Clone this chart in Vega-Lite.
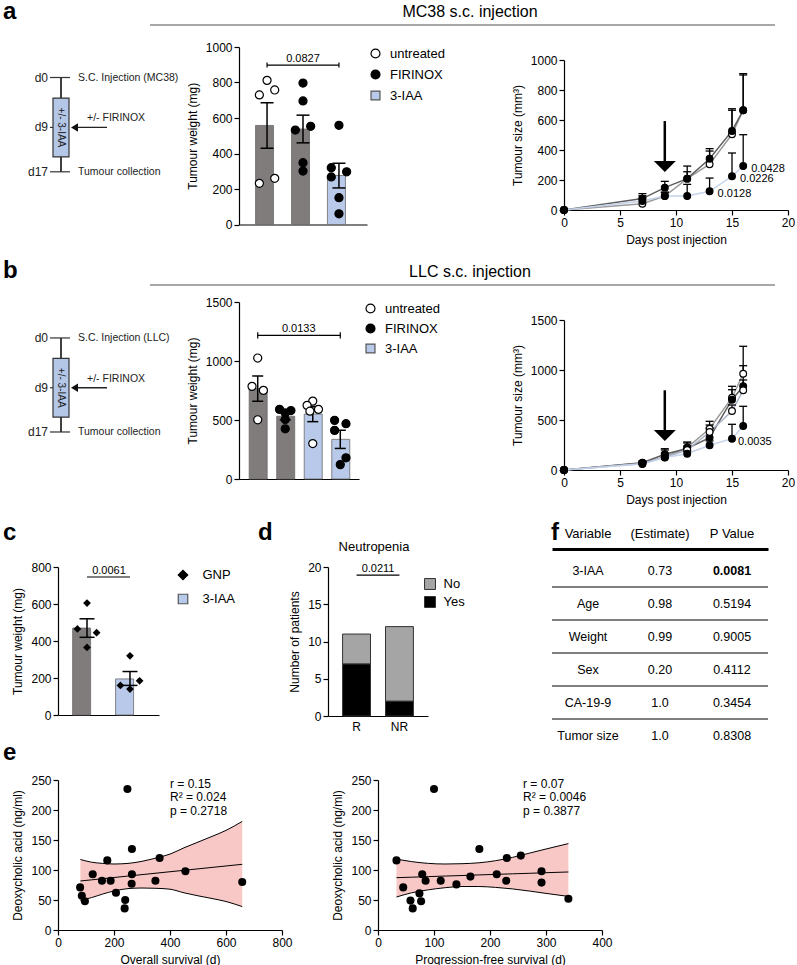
{
"$schema": "https://vega.github.io/schema/vega-lite/v6.json",
"padding": {"left": 0, "top": 0, "right": 0, "bottom": 0},
"background": "white",
"columns": 7,
"spacing": 0,
"bounds": "flush",
"align": "each",
"resolve": {"scale": {"color": "independent", "fill": "independent", "stroke": "independent", "shape": "independent", "xOffset": "independent"}},
"config": {
  "font": "Liberation Sans, Arial, Helvetica, sans-serif",
  "view": {"stroke": null},
  "axis": {"grid": false, "domainColor": "black", "tickColor": "black", "labelColor": "black", "titleColor": "black", "labelFontSize": 12, "titleFontSize": 12, "titleFontWeight": "normal", "domainWidth": 1.2, "tickWidth": 1.2, "tickSize": 5, "labelPadding": 2, "titlePadding": 6, "labelFlush": false, "labelOverlap": false, "tickCount": 20},
  "legend": {"labelColor": "black"},
  "title": {"color": "black"}
},
"datasets": {
  "timelineA": [{"day": 0, "label": "d0", "event": "S.C. Injection (MC38)"}, {"day": 9, "label": "d9", "event": "+/- FIRINOX"}, {"day": 17, "label": "d17", "event": "Tumour collection"}],
  "timelineB": [{"day": 0, "label": "d0", "event": "S.C. Injection (LLC)"}, {"day": 9, "label": "d9", "event": "+/- FIRINOX"}, {"day": 17, "label": "d17", "event": "Tumour collection"}],
  "barsA": [
    {"group": "untreated", "iaa": "none", "mean": 558, "lo": 430, "hi": 686},
    {"group": "FIRINOX", "iaa": "none", "mean": 538, "lo": 460, "hi": 616},
    {"group": "3-IAA + FIRINOX", "iaa": "3-IAA", "mean": 276, "lo": 206, "hi": 345}
  ],
  "dotsA": [
    {"group": "untreated", "chemo": "untreated", "rep": 1, "weight": 730},
    {"group": "untreated", "chemo": "untreated", "rep": 1, "weight": 232},
    {"group": "untreated", "chemo": "untreated", "rep": 3, "weight": 812},
    {"group": "untreated", "chemo": "untreated", "rep": 5, "weight": 260},
    {"group": "untreated", "chemo": "untreated", "rep": 5, "weight": 758},
    {"group": "FIRINOX", "chemo": "FIRINOX", "rep": 3, "weight": 797},
    {"group": "FIRINOX", "chemo": "FIRINOX", "rep": 3, "weight": 696},
    {"group": "FIRINOX", "chemo": "FIRINOX", "rep": 1, "weight": 532},
    {"group": "FIRINOX", "chemo": "FIRINOX", "rep": 5, "weight": 553},
    {"group": "FIRINOX", "chemo": "FIRINOX", "rep": 3, "weight": 348},
    {"group": "FIRINOX", "chemo": "FIRINOX", "rep": 3, "weight": 301},
    {"group": "3-IAA + FIRINOX", "chemo": "FIRINOX", "rep": 3, "weight": 559},
    {"group": "3-IAA + FIRINOX", "chemo": "FIRINOX", "rep": 1, "weight": 320},
    {"group": "3-IAA + FIRINOX", "chemo": "FIRINOX", "rep": 5, "weight": 297},
    {"group": "3-IAA + FIRINOX", "chemo": "FIRINOX", "rep": 1, "weight": 268},
    {"group": "3-IAA + FIRINOX", "chemo": "FIRINOX", "rep": 3, "weight": 151},
    {"group": "3-IAA + FIRINOX", "chemo": "FIRINOX", "rep": 3, "weight": 60}
  ],
  "barsB": [
    {"group": "untreated", "iaa": "none", "mean": 766, "lo": 659, "hi": 873},
    {"group": "FIRINOX", "iaa": "none", "mean": 532, "lo": 501, "hi": 563},
    {"group": "3-IAA", "iaa": "3-IAA", "mean": 550, "lo": 486, "hi": 614},
    {"group": "3-IAA + FIRINOX", "iaa": "3-IAA", "mean": 336, "lo": 259, "hi": 413}
  ],
  "dotsB": [
    {"group": "untreated", "chemo": "untreated", "rep": 3, "weight": 1025},
    {"group": "untreated", "chemo": "untreated", "rep": 1, "weight": 785},
    {"group": "untreated", "chemo": "untreated", "rep": 5, "weight": 751},
    {"group": "untreated", "chemo": "untreated", "rep": 3, "weight": 502},
    {"group": "FIRINOX", "chemo": "FIRINOX", "rep": 1, "weight": 590},
    {"group": "FIRINOX", "chemo": "FIRINOX", "rep": 5, "weight": 580},
    {"group": "FIRINOX", "chemo": "FIRINOX", "rep": 3, "weight": 560},
    {"group": "FIRINOX", "chemo": "FIRINOX", "rep": 3, "weight": 505},
    {"group": "FIRINOX", "chemo": "FIRINOX", "rep": 3, "weight": 425},
    {"group": "3-IAA", "chemo": "untreated", "rep": 3, "weight": 660},
    {"group": "3-IAA", "chemo": "untreated", "rep": 1, "weight": 624},
    {"group": "3-IAA", "chemo": "untreated", "rep": 5, "weight": 590},
    {"group": "3-IAA", "chemo": "untreated", "rep": 2, "weight": 575},
    {"group": "3-IAA", "chemo": "untreated", "rep": 3, "weight": 300},
    {"group": "3-IAA + FIRINOX", "chemo": "FIRINOX", "rep": 1, "weight": 497},
    {"group": "3-IAA + FIRINOX", "chemo": "FIRINOX", "rep": 5, "weight": 469},
    {"group": "3-IAA + FIRINOX", "chemo": "FIRINOX", "rep": 1, "weight": 412},
    {"group": "3-IAA + FIRINOX", "chemo": "FIRINOX", "rep": 5, "weight": 180},
    {"group": "3-IAA + FIRINOX", "chemo": "FIRINOX", "rep": 3, "weight": 122}
  ],
  "lineA": [
    {"series": "untreated", "chemo": "untreated", "day": 0, "value": 0},
    {"series": "untreated", "chemo": "untreated", "day": 7, "value": 42, "upper": 95},
    {"series": "untreated", "chemo": "untreated", "day": 9, "value": 93, "upper": 120},
    {"series": "untreated", "chemo": "untreated", "day": 11, "value": 209, "upper": 255},
    {"series": "untreated", "chemo": "untreated", "day": 13, "value": 305, "upper": 393},
    {"series": "untreated", "chemo": "untreated", "day": 15, "value": 505, "upper": 665},
    {"series": "untreated", "chemo": "untreated", "day": 16, "value": 665, "upper": 900},
    {"series": "FIRINOX", "chemo": "FIRINOX", "day": 0, "value": 0},
    {"series": "FIRINOX", "chemo": "FIRINOX", "day": 7, "value": 76, "upper": 109},
    {"series": "FIRINOX", "chemo": "FIRINOX", "day": 9, "value": 149, "upper": 191},
    {"series": "FIRINOX", "chemo": "FIRINOX", "day": 11, "value": 209, "upper": 293},
    {"series": "FIRINOX", "chemo": "FIRINOX", "day": 13, "value": 342, "upper": 409},
    {"series": "FIRINOX", "chemo": "FIRINOX", "day": 15, "value": 527, "upper": 675},
    {"series": "FIRINOX", "chemo": "FIRINOX", "day": 16, "value": 665, "upper": 909},
    {"series": "3-IAA + FIRINOX", "chemo": "FIRINOX", "day": 0, "value": 0},
    {"series": "3-IAA + FIRINOX", "chemo": "FIRINOX", "day": 7, "value": 60, "upper": 80},
    {"series": "3-IAA + FIRINOX", "chemo": "FIRINOX", "day": 9, "value": 93, "upper": 115},
    {"series": "3-IAA + FIRINOX", "chemo": "FIRINOX", "day": 11, "value": 93, "upper": 171},
    {"series": "3-IAA + FIRINOX", "chemo": "FIRINOX", "day": 13, "value": 125, "upper": 213},
    {"series": "3-IAA + FIRINOX", "chemo": "FIRINOX", "day": 15, "value": 225, "upper": 380},
    {"series": "3-IAA + FIRINOX", "chemo": "FIRINOX", "day": 16, "value": 293, "upper": 502}
  ],
  "pA": [{"day": 13, "value": 125, "label": "0.0128"}, {"day": 15, "value": 225, "label": "0.0226"}, {"day": 16, "value": 293, "label": "0.0428"}],
  "lineB": [
    {"series": "untreated", "chemo": "untreated", "day": 0, "value": 0},
    {"series": "untreated", "chemo": "untreated", "day": 7, "value": 70, "upper": 85},
    {"series": "untreated", "chemo": "untreated", "day": 9, "value": 130, "upper": 200},
    {"series": "untreated", "chemo": "untreated", "day": 11, "value": 225, "upper": 270},
    {"series": "untreated", "chemo": "untreated", "day": 13, "value": 413, "upper": 487},
    {"series": "untreated", "chemo": "untreated", "day": 15, "value": 723, "upper": 837},
    {"series": "untreated", "chemo": "untreated", "day": 16, "value": 963, "upper": 1237},
    {"series": "FIRINOX", "chemo": "FIRINOX", "day": 0, "value": 0},
    {"series": "FIRINOX", "chemo": "FIRINOX", "day": 7, "value": 72, "upper": 90},
    {"series": "FIRINOX", "chemo": "FIRINOX", "day": 9, "value": 157, "upper": 213},
    {"series": "FIRINOX", "chemo": "FIRINOX", "day": 11, "value": 215, "upper": 280},
    {"series": "FIRINOX", "chemo": "FIRINOX", "day": 13, "value": 323, "upper": 450},
    {"series": "FIRINOX", "chemo": "FIRINOX", "day": 15, "value": 703, "upper": 803},
    {"series": "FIRINOX", "chemo": "FIRINOX", "day": 16, "value": 837, "upper": 1043},
    {"series": "3-IAA", "chemo": "untreated", "day": 0, "value": 0},
    {"series": "3-IAA", "chemo": "untreated", "day": 7, "value": 65, "upper": 80},
    {"series": "3-IAA", "chemo": "untreated", "day": 9, "value": 128, "upper": 170},
    {"series": "3-IAA", "chemo": "untreated", "day": 11, "value": 200, "upper": 240},
    {"series": "3-IAA", "chemo": "untreated", "day": 13, "value": 380, "upper": 420},
    {"series": "3-IAA", "chemo": "untreated", "day": 15, "value": 590, "upper": 650},
    {"series": "3-IAA", "chemo": "untreated", "day": 16, "value": 797, "upper": 900},
    {"series": "3-IAA + FIRINOX", "chemo": "FIRINOX", "day": 0, "value": 0},
    {"series": "3-IAA + FIRINOX", "chemo": "FIRINOX", "day": 7, "value": 60, "upper": 75},
    {"series": "3-IAA + FIRINOX", "chemo": "FIRINOX", "day": 9, "value": 125, "upper": 150},
    {"series": "3-IAA + FIRINOX", "chemo": "FIRINOX", "day": 11, "value": 163, "upper": 190},
    {"series": "3-IAA + FIRINOX", "chemo": "FIRINOX", "day": 13, "value": 247, "upper": 290},
    {"series": "3-IAA + FIRINOX", "chemo": "FIRINOX", "day": 15, "value": 313, "upper": 457},
    {"series": "3-IAA + FIRINOX", "chemo": "FIRINOX", "day": 16, "value": 440, "upper": 637}
  ],
  "pB": [{"day": 15, "value": 313, "label": "0.0035"}],
  "barsC": [
    {"group": "GNP", "iaa": "none", "mean": 470, "lo": 420, "hi": 520},
    {"group": "3-IAA", "iaa": "3-IAA", "mean": 195, "lo": 160, "hi": 235}
  ],
  "dotsC": [
    {"group": "GNP", "rep": 3, "weight": 605},
    {"group": "GNP", "rep": 1, "weight": 465},
    {"group": "GNP", "rep": 5, "weight": 445},
    {"group": "GNP", "rep": 3, "weight": 365},
    {"group": "3-IAA", "rep": 3, "weight": 320},
    {"group": "3-IAA", "rep": 5, "weight": 185},
    {"group": "3-IAA", "rep": 1, "weight": 160},
    {"group": "3-IAA", "rep": 3, "weight": 140}
  ],
  "dBars": [
    {"resp": "R", "answer": "Yes", "n": 7},
    {"resp": "R", "answer": "No", "n": 4},
    {"resp": "NR", "answer": "Yes", "n": 2},
    {"resp": "NR", "answer": "No", "n": 10}
  ],
  "table": [
    {"Variable": "3-IAA", "Estimate": "0.73", "P": "0.0081"},
    {"Variable": "Age", "Estimate": "0.98", "P": "0.5194"},
    {"Variable": "Weight", "Estimate": "0.99", "P": "0.9005"},
    {"Variable": "Sex", "Estimate": "0.20", "P": "0.4112"},
    {"Variable": "CA-19-9", "Estimate": "1.0", "P": "0.3454"},
    {"Variable": "Tumor size", "Estimate": "1.0", "P": "0.8308"}
  ],
  "eL": [
    {"os": 79, "dca": 71}, {"os": 85, "dca": 57}, {"os": 96, "dca": 48}, {"os": 124, "dca": 93},
    {"os": 157, "dca": 82}, {"os": 176, "dca": 116}, {"os": 188, "dca": 82}, {"os": 207, "dca": 62},
    {"os": 240, "dca": 50}, {"os": 238, "dca": 36}, {"os": 248, "dca": 235}, {"os": 264, "dca": 135},
    {"os": 264, "dca": 93}, {"os": 263, "dca": 77}, {"os": 348, "dca": 82}, {"os": 363, "dca": 120},
    {"os": 455, "dca": 98}, {"os": 658, "dca": 80}
  ],
  "eR": [
    {"pfs": 33, "dca": 116}, {"pfs": 45, "dca": 71}, {"pfs": 58, "dca": 49}, {"pfs": 62, "dca": 36},
    {"pfs": 74, "dca": 61}, {"pfs": 77, "dca": 48}, {"pfs": 79, "dca": 93}, {"pfs": 85, "dca": 82},
    {"pfs": 100, "dca": 235}, {"pfs": 112, "dca": 82}, {"pfs": 140, "dca": 76}, {"pfs": 165, "dca": 89},
    {"pfs": 181, "dca": 135}, {"pfs": 212, "dca": 93}, {"pfs": 229, "dca": 82}, {"pfs": 230, "dca": 120},
    {"pfs": 255, "dca": 124}, {"pfs": 292, "dca": 98}, {"pfs": 292, "dca": 79}, {"pfs": 340, "dca": 52}
  ],
  "bandL": [
    {"x": 80, "lo": 49.5, "hi": 117.5, "fit": 81.7}, {"x": 120, "lo": 54, "hi": 113, "fit": 83.6},
    {"x": 160, "lo": 60, "hi": 111, "fit": 85.5}, {"x": 200, "lo": 65, "hi": 110, "fit": 87.5},
    {"x": 250, "lo": 69, "hi": 111, "fit": 89.9}, {"x": 300, "lo": 70, "hi": 114.5, "fit": 92.3},
    {"x": 350, "lo": 69.5, "hi": 120, "fit": 94.7}, {"x": 400, "lo": 68, "hi": 126.5, "fit": 97.1},
    {"x": 450, "lo": 62, "hi": 137, "fit": 99.5}, {"x": 500, "lo": 57, "hi": 146.5, "fit": 101.9},
    {"x": 550, "lo": 52.5, "hi": 156, "fit": 104.3}, {"x": 600, "lo": 47.5, "hi": 166, "fit": 106.7},
    {"x": 658, "lo": 39, "hi": 181, "fit": 109.5}
  ],
  "bandR": [
    {"x": 33, "lo": 55, "hi": 118, "fit": 87.2}, {"x": 60, "lo": 62, "hi": 114, "fit": 88},
    {"x": 90, "lo": 67, "hi": 111, "fit": 89}, {"x": 120, "lo": 70.5, "hi": 110, "fit": 89.9},
    {"x": 150, "lo": 72.5, "hi": 110.5, "fit": 90.8}, {"x": 180, "lo": 72.5, "hi": 112, "fit": 91.8},
    {"x": 210, "lo": 71, "hi": 115.5, "fit": 92.7}, {"x": 240, "lo": 68.5, "hi": 121, "fit": 93.6},
    {"x": 270, "lo": 65, "hi": 128, "fit": 94.5}, {"x": 300, "lo": 61, "hi": 135, "fit": 95.5},
    {"x": 340, "lo": 56, "hi": 144, "fit": 96.7}
  ]
},
"concat": [
  {"width": 58, "height": 22, "title": {"text": "a", "anchor": "start", "frame": "group", "fontSize": 24, "fontWeight": "bold", "baseline": "alphabetic", "offset": -18, "dx": 3}, "data": {"values": [{}]}, "mark": {"type": "text", "text": ""}, "encoding": {}},
  {"width": 181, "height": 22, "title": {"text": "MC38 s.c. injection", "anchor": "middle", "frame": "group", "fontSize": 16, "fontWeight": "normal", "baseline": "alphabetic", "offset": -9, "dx": 321.5}, "data": {"values": [{}]}, "mark": {"type": "rule", "color": "#8a8a8a", "strokeWidth": 1.5}, "encoding": {"x": {"datum": 0, "type": "quantitative", "scale": {"domain": [0, 1], "range": [92, 717]}, "axis": null}, "x2": {"datum": 1}, "y": {"datum": 1, "type": "quantitative", "scale": {"domain": [0, 1]}, "axis": null}}},
  {"width": 1, "height": 1, "data": {"values": [{}]}, "mark": {"type": "text", "text": ""}, "encoding": {}},
  {"width": 1, "height": 1, "data": {"values": [{}]}, "mark": {"type": "text", "text": ""}, "encoding": {}},
  {"width": 1, "height": 1, "data": {"values": [{}]}, "mark": {"type": "text", "text": ""}, "encoding": {}},
  {"width": 1, "height": 1, "data": {"values": [{}]}, "mark": {"type": "text", "text": ""}, "encoding": {}},
  {"width": 1, "height": 1, "data": {"values": [{}]}, "mark": {"type": "text", "text": ""}, "encoding": {}},

  {"width": 58, "height": 177.5, "data": {"name": "timelineA"}, "layer": [
    {"mark": {"type": "rule", "color": "#333333", "strokeWidth": 1.2}, "encoding": {"x": {"datum": 61, "type": "quantitative", "scale": {"domain": [0, 238], "range": [0, 238], "nice": false, "zero": false}, "axis": null}, "y": {"datum": 0, "type": "quantitative", "scale": {"domain": [-5.5, 26.5], "nice": false, "zero": false, "reverse": true}, "axis": null}, "y2": {"datum": 17}}},
    {"transform": [{"filter": "datum.day != 9"}], "mark": {"type": "rule", "color": "#333333", "strokeWidth": 1.2}, "encoding": {"x": {"datum": 50, "type": "quantitative"}, "x2": {"datum": 70}, "y": {"field": "day", "type": "quantitative"}}},
    {"transform": [{"filter": "datum.day == 9"}], "mark": {"type": "rule", "color": "#333333", "strokeWidth": 1.2}, "encoding": {"x": {"datum": 50, "type": "quantitative"}, "x2": {"datum": 54}, "y": {"field": "day", "type": "quantitative"}}},
    {"transform": [{"filter": "datum.day == 9"}], "mark": {"type": "rect", "fill": "#b4c7e7", "stroke": "#333333", "strokeWidth": 1.2, "opacity": 1}, "encoding": {"x": {"datum": 53, "type": "quantitative"}, "x2": {"datum": 69}, "y": {"datum": 3.7, "type": "quantitative"}, "y2": {"datum": 14.3}}},
    {"transform": [{"filter": "datum.day == 9"}], "mark": {"type": "text", "angle": 90, "fontSize": 10, "text": "+/- 3-IAA", "align": "center", "baseline": "middle", "color": "#222222"}, "encoding": {"x": {"datum": 61, "type": "quantitative"}, "y": {"field": "day", "type": "quantitative"}}},
    {"mark": {"type": "text", "align": "right", "baseline": "middle", "fontSize": 12, "color": "#222222"}, "encoding": {"x": {"datum": 48, "type": "quantitative"}, "y": {"field": "day", "type": "quantitative"}, "text": {"field": "label"}}},
    {"transform": [{"filter": "datum.day != 9"}], "mark": {"type": "text", "align": "left", "baseline": "middle", "fontSize": 10.5, "color": "#222222"}, "encoding": {"x": {"datum": 78, "type": "quantitative"}, "y": {"field": "day", "type": "quantitative"}, "text": {"field": "event"}}},
    {"transform": [{"filter": "datum.day == 9"}], "mark": {"type": "text", "align": "left", "baseline": "middle", "fontSize": 10.5, "dy": -9, "color": "#222222"}, "encoding": {"x": {"datum": 87, "type": "quantitative"}, "y": {"field": "day", "type": "quantitative"}, "text": {"field": "event"}}},
    {"transform": [{"filter": "datum.day == 9"}], "mark": {"type": "rule", "color": "#222222", "strokeWidth": 1.3}, "encoding": {"x": {"datum": 74, "type": "quantitative"}, "x2": {"datum": 107}, "y": {"field": "day", "type": "quantitative"}}},
    {"transform": [{"filter": "datum.day == 9"}], "mark": {"type": "point", "shape": "M -1 0 L 1 -1.2 L 1 1.2 Z", "size": 49, "filled": true, "color": "#111111", "opacity": 1}, "encoding": {"x": {"datum": 74.5, "type": "quantitative"}, "y": {"field": "day", "type": "quantitative"}}}
  ]},
  {"width": 1, "height": 1, "data": {"values": [{}]}, "mark": {"type": "text", "text": ""}, "encoding": {}},
  {"width": 89, "height": 177.5, "layer": [
    {"data": {"name": "barsA"}, "mark": {"type": "bar", "stroke": "#6b6b6b", "strokeWidth": 0.8, "opacity": 1}, "encoding": {
      "x": {"field": "group", "type": "nominal", "scale": {"domain": ["untreated", "FIRINOX", "3-IAA + FIRINOX"], "range": [0, 128], "paddingInner": 0.36, "paddingOuter": 0.46}, "axis": {"title": null, "labels": false, "ticks": false}},
      "y": {"field": "mean", "type": "quantitative", "scale": {"domain": [0, 1000], "nice": false}, "axis": {"values": [0, 200, 400, 600, 800, 1000], "tickCount": 20, "format": "d", "title": "Tumour weight (mg)"}},
      "color": {"field": "iaa", "type": "nominal", "scale": {"domain": ["none", "3-IAA"], "range": ["#807c7c", "#b8c9e9"]}, "legend": null}}},
    {"data": {"name": "barsA"}, "mark": {"type": "rule", "color": "black", "strokeWidth": 1.5}, "encoding": {"x": {"field": "group", "type": "nominal"}, "y": {"field": "lo", "type": "quantitative", "title": "Tumour weight (mg)"}, "y2": {"field": "hi"}}},
    {"data": {"name": "barsA"}, "mark": {"type": "tick", "orient": "horizontal", "size": 13, "thickness": 1.5, "color": "black", "opacity": 1}, "encoding": {"x": {"field": "group", "type": "nominal"}, "y": {"field": "lo", "type": "quantitative", "title": "Tumour weight (mg)"}}},
    {"data": {"name": "barsA"}, "mark": {"type": "tick", "orient": "horizontal", "size": 13, "thickness": 1.5, "color": "black", "opacity": 1}, "encoding": {"x": {"field": "group", "type": "nominal"}, "y": {"field": "hi", "type": "quantitative", "title": "Tumour weight (mg)"}}},
    {"data": {"name": "dotsA"}, "mark": {"type": "point", "filled": true, "size": 65, "stroke": "black", "strokeWidth": 1.2, "opacity": 1}, "encoding": {
      "x": {"field": "group", "type": "nominal"},
      "xOffset": {"field": "rep", "type": "ordinal", "scale": {"type": "point", "domain": [1, 2, 3, 4, 5], "padding": 1}},
      "y": {"field": "weight", "type": "quantitative", "title": "Tumour weight (mg)"},
      "fill": {"condition": {"test": "datum.chemo == 'FIRINOX'", "value": "black"}, "value": "white"}}},
    {"data": {"values": [{}]}, "mark": {"type": "rule", "color": "black", "strokeWidth": 1.2}, "encoding": {"x": {"datum": "untreated", "type": "nominal"}, "x2": {"datum": "3-IAA + FIRINOX"}, "y": {"datum": 898, "type": "quantitative"}}},
    {"data": {"values": [{"g": "untreated"}, {"g": "3-IAA + FIRINOX"}]}, "mark": {"type": "rule", "color": "black", "strokeWidth": 1.2}, "encoding": {"x": {"field": "g", "type": "nominal"}, "y": {"datum": 884, "type": "quantitative"}, "y2": {"datum": 912}}},
    {"data": {"values": [{}]}, "mark": {"type": "text", "fontSize": 11, "baseline": "bottom", "dy": -1}, "encoding": {"x": {"datum": "FIRINOX", "type": "nominal"}, "y": {"datum": 898, "type": "quantitative"}, "text": {"value": "0.0827"}}},
    {"data": {"values": [{"key": "untreated"}, {"key": "FIRINOX"}, {"key": "3-IAA"}]}, "mark": {"type": "point", "filled": true, "opacity": 0}, "encoding": {
      "shape": {"field": "key", "type": "nominal", "scale": {"domain": ["untreated", "FIRINOX", "3-IAA"], "range": ["circle", "circle", "square"]}, "legend": {"title": null, "orient": "right", "offset": 41, "padding": 0, "symbolSize": 80, "symbolStrokeWidth": 1.2, "symbolOpacity": 1, "labelFontSize": 13, "labelOffset": 8, "rowPadding": 6}},
      "fill": {"field": "key", "type": "nominal", "scale": {"domain": ["untreated", "FIRINOX", "3-IAA"], "range": ["white", "black", "#b8c9e9"]}, "legend": {"title": null, "orient": "right", "offset": 41, "padding": 0, "symbolSize": 80, "symbolStrokeWidth": 1.2, "symbolOpacity": 1, "labelFontSize": 13, "labelOffset": 8, "rowPadding": 6}},
      "stroke": {"field": "key", "type": "nominal", "scale": {"domain": ["untreated", "FIRINOX", "3-IAA"], "range": ["black", "black", "#555555"]}, "legend": {"title": null, "orient": "right", "offset": 41, "padding": 0, "symbolSize": 80, "symbolStrokeWidth": 1.2, "symbolOpacity": 1, "labelFontSize": 13, "labelOffset": 8, "rowPadding": 6}}}}
  ]},
  {"width": 1, "height": 1, "data": {"values": [{}]}, "mark": {"type": "text", "text": ""}, "encoding": {}},
  {"width": 1, "height": 1, "data": {"values": [{}]}, "mark": {"type": "text", "text": ""}, "encoding": {}},
  {"width": 1, "height": 1, "data": {"values": [{}]}, "mark": {"type": "text", "text": ""}, "encoding": {}},
  {"width": 224, "height": 163, "layer": [
    {"data": {"name": "lineA"}, "mark": {"type": "line", "strokeWidth": 1.5}, "encoding": {
      "x": {"field": "day", "type": "quantitative", "scale": {"domain": [0, 20], "nice": false}, "axis": {"values": [0, 5, 10, 15, 20], "title": "Days post injection"}},
      "y": {"field": "value", "type": "quantitative", "scale": {"domain": [0, 1000], "nice": false, "range": [163, 13]}, "axis": {"values": [0, 200, 400, 600, 800, 1000], "tickCount": 20, "format": "d", "title": "Tumour size (mm³)"}},
      "color": {"field": "series", "type": "nominal", "scale": {"domain": ["untreated", "FIRINOX", "3-IAA + FIRINOX"], "range": ["#9b9b9b", "#5e5e5e", "#c5d2ea"]}, "legend": null}}},
    {"data": {"name": "lineA"}, "transform": [{"filter": "isValid(datum.upper)"}], "mark": {"type": "rule", "color": "black", "strokeWidth": 1.3}, "encoding": {"x": {"field": "day", "type": "quantitative", "title": "Days post injection"}, "y": {"field": "value", "type": "quantitative", "title": "Tumour size (mm³)"}, "y2": {"field": "upper"}}},
    {"data": {"name": "lineA"}, "transform": [{"filter": "isValid(datum.upper)"}], "mark": {"type": "tick", "orient": "horizontal", "size": 8, "thickness": 1.3, "color": "black", "opacity": 1}, "encoding": {"x": {"field": "day", "type": "quantitative", "title": "Days post injection"}, "y": {"field": "upper", "type": "quantitative", "title": "Tumour size (mm³)"}}},
    {"data": {"name": "lineA"}, "mark": {"type": "point", "filled": true, "size": 45, "stroke": "black", "strokeWidth": 1.2, "opacity": 1}, "encoding": {"x": {"field": "day", "type": "quantitative", "title": "Days post injection"}, "y": {"field": "value", "type": "quantitative", "title": "Tumour size (mm³)"}, "fill": {"condition": {"test": "datum.chemo == 'FIRINOX'", "value": "black"}, "value": "white"}}},
    {"data": {"values": [{}]}, "mark": {"type": "rule", "strokeWidth": 2.5, "color": "black"}, "encoding": {"x": {"datum": 9, "type": "quantitative"}, "y": {"datum": 593, "type": "quantitative"}, "y2": {"datum": 300}}},
    {"data": {"values": [{}]}, "mark": {"type": "point", "shape": "M -1 -0.5 L 1 -0.5 L 0 0.5 Z", "size": 484, "filled": true, "color": "black", "opacity": 1}, "encoding": {"x": {"datum": 9, "type": "quantitative"}, "y": {"datum": 290, "type": "quantitative"}}},
    {"data": {"name": "pA"}, "mark": {"type": "text", "align": "left", "dx": 8, "dy": 3, "fontSize": 11}, "encoding": {"x": {"field": "day", "type": "quantitative"}, "y": {"field": "value", "type": "quantitative"}, "text": {"field": "label"}}}
  ]},

  {"width": 1, "height": 59.5, "data": {"values": [{}]}, "mark": {"type": "text", "text": ""}, "encoding": {}},
  {"width": 1, "height": 1, "data": {"values": [{}]}, "mark": {"type": "text", "text": ""}, "encoding": {}},
  {"width": 1, "height": 1, "data": {"values": [{}]}, "mark": {"type": "text", "text": ""}, "encoding": {}},
  {"width": 1, "height": 1, "data": {"values": [{}]}, "mark": {"type": "text", "text": ""}, "encoding": {}},
  {"width": 1, "height": 1, "data": {"values": [{}]}, "mark": {"type": "text", "text": ""}, "encoding": {}},
  {"width": 1, "height": 1, "data": {"values": [{}]}, "mark": {"type": "text", "text": ""}, "encoding": {}},
  {"width": 1, "height": 1, "data": {"values": [{}]}, "mark": {"type": "text", "text": ""}, "encoding": {}},

  {"width": 58, "height": 17, "title": {"text": "b", "anchor": "start", "frame": "group", "fontSize": 24, "fontWeight": "bold", "baseline": "alphabetic", "offset": -17, "dx": 3}, "data": {"values": [{}]}, "mark": {"type": "text", "text": ""}, "encoding": {}},
  {"width": 181, "height": 17, "title": {"text": "LLC s.c. injection", "anchor": "middle", "frame": "group", "fontSize": 16, "fontWeight": "normal", "baseline": "alphabetic", "offset": -9, "dx": 321.5}, "data": {"values": [{}]}, "mark": {"type": "rule", "color": "#8a8a8a", "strokeWidth": 1.5}, "encoding": {"x": {"datum": 0, "type": "quantitative", "scale": {"domain": [0, 1], "range": [92, 717]}, "axis": null}, "x2": {"datum": 1}, "y": {"datum": 1, "type": "quantitative", "scale": {"domain": [0, 1]}, "axis": null}}},
  {"width": 1, "height": 1, "data": {"values": [{}]}, "mark": {"type": "text", "text": ""}, "encoding": {}},
  {"width": 1, "height": 1, "data": {"values": [{}]}, "mark": {"type": "text", "text": ""}, "encoding": {}},
  {"width": 1, "height": 1, "data": {"values": [{}]}, "mark": {"type": "text", "text": ""}, "encoding": {}},
  {"width": 1, "height": 1, "data": {"values": [{}]}, "mark": {"type": "text", "text": ""}, "encoding": {}},
  {"width": 1, "height": 1, "data": {"values": [{}]}, "mark": {"type": "text", "text": ""}, "encoding": {}},

  {"width": 58, "height": 177, "data": {"name": "timelineB"}, "layer": [
    {"mark": {"type": "rule", "color": "#333333", "strokeWidth": 1.2}, "encoding": {"x": {"datum": 61, "type": "quantitative", "scale": {"domain": [0, 238], "range": [0, 238], "nice": false, "zero": false}, "axis": null}, "y": {"datum": 0, "type": "quantitative", "scale": {"domain": [-6.5, 25.5], "nice": false, "zero": false, "reverse": true}, "axis": null}, "y2": {"datum": 17}}},
    {"transform": [{"filter": "datum.day != 9"}], "mark": {"type": "rule", "color": "#333333", "strokeWidth": 1.2}, "encoding": {"x": {"datum": 50, "type": "quantitative"}, "x2": {"datum": 70}, "y": {"field": "day", "type": "quantitative"}}},
    {"transform": [{"filter": "datum.day == 9"}], "mark": {"type": "rule", "color": "#333333", "strokeWidth": 1.2}, "encoding": {"x": {"datum": 50, "type": "quantitative"}, "x2": {"datum": 54}, "y": {"field": "day", "type": "quantitative"}}},
    {"transform": [{"filter": "datum.day == 9"}], "mark": {"type": "rect", "fill": "#b4c7e7", "stroke": "#333333", "strokeWidth": 1.2, "opacity": 1}, "encoding": {"x": {"datum": 53, "type": "quantitative"}, "x2": {"datum": 69}, "y": {"datum": 3.7, "type": "quantitative"}, "y2": {"datum": 14.3}}},
    {"transform": [{"filter": "datum.day == 9"}], "mark": {"type": "text", "angle": 90, "fontSize": 10, "text": "+/- 3-IAA", "align": "center", "baseline": "middle", "color": "#222222"}, "encoding": {"x": {"datum": 61, "type": "quantitative"}, "y": {"field": "day", "type": "quantitative"}}},
    {"mark": {"type": "text", "align": "right", "baseline": "middle", "fontSize": 12, "color": "#222222"}, "encoding": {"x": {"datum": 48, "type": "quantitative"}, "y": {"field": "day", "type": "quantitative"}, "text": {"field": "label"}}},
    {"transform": [{"filter": "datum.day != 9"}], "mark": {"type": "text", "align": "left", "baseline": "middle", "fontSize": 10.5, "color": "#222222"}, "encoding": {"x": {"datum": 78, "type": "quantitative"}, "y": {"field": "day", "type": "quantitative"}, "text": {"field": "event"}}},
    {"transform": [{"filter": "datum.day == 9"}], "mark": {"type": "text", "align": "left", "baseline": "middle", "fontSize": 10.5, "dy": -9, "color": "#222222"}, "encoding": {"x": {"datum": 87, "type": "quantitative"}, "y": {"field": "day", "type": "quantitative"}, "text": {"field": "event"}}},
    {"transform": [{"filter": "datum.day == 9"}], "mark": {"type": "rule", "color": "#222222", "strokeWidth": 1.3}, "encoding": {"x": {"datum": 74, "type": "quantitative"}, "x2": {"datum": 107}, "y": {"field": "day", "type": "quantitative"}}},
    {"transform": [{"filter": "datum.day == 9"}], "mark": {"type": "point", "shape": "M -1 0 L 1 -1.2 L 1 1.2 Z", "size": 49, "filled": true, "color": "#111111", "opacity": 1}, "encoding": {"x": {"datum": 74.5, "type": "quantitative"}, "y": {"field": "day", "type": "quantitative"}}}
  ]},
  {"width": 1, "height": 1, "data": {"values": [{}]}, "mark": {"type": "text", "text": ""}, "encoding": {}},
  {"width": 89, "height": 177, "layer": [
    {"data": {"name": "barsB"}, "mark": {"type": "bar", "stroke": "#6b6b6b", "strokeWidth": 0.8, "opacity": 1}, "encoding": {
      "x": {"field": "group", "type": "nominal", "scale": {"domain": ["untreated", "FIRINOX", "3-IAA", "3-IAA + FIRINOX"], "range": [0, 120], "paddingInner": 0.38, "paddingOuter": 0.37}, "axis": {"title": null, "labels": false, "ticks": false}},
      "y": {"field": "mean", "type": "quantitative", "scale": {"domain": [0, 1500], "nice": false}, "axis": {"values": [0, 500, 1000, 1500], "tickCount": 20, "format": "d", "title": "Tumour weight (mg)"}},
      "color": {"field": "iaa", "type": "nominal", "scale": {"domain": ["none", "3-IAA"], "range": ["#807c7c", "#b8c9e9"]}, "legend": null}}},
    {"data": {"name": "barsB"}, "mark": {"type": "rule", "color": "black", "strokeWidth": 1.5}, "encoding": {"x": {"field": "group", "type": "nominal"}, "y": {"field": "lo", "type": "quantitative", "title": "Tumour weight (mg)"}, "y2": {"field": "hi"}}},
    {"data": {"name": "barsB"}, "mark": {"type": "tick", "orient": "horizontal", "size": 11, "thickness": 1.5, "color": "black", "opacity": 1}, "encoding": {"x": {"field": "group", "type": "nominal"}, "y": {"field": "lo", "type": "quantitative", "title": "Tumour weight (mg)"}}},
    {"data": {"name": "barsB"}, "mark": {"type": "tick", "orient": "horizontal", "size": 11, "thickness": 1.5, "color": "black", "opacity": 1}, "encoding": {"x": {"field": "group", "type": "nominal"}, "y": {"field": "hi", "type": "quantitative", "title": "Tumour weight (mg)"}}},
    {"data": {"name": "dotsB"}, "mark": {"type": "point", "filled": true, "size": 65, "stroke": "black", "strokeWidth": 1.2, "opacity": 1}, "encoding": {
      "x": {"field": "group", "type": "nominal"},
      "xOffset": {"field": "rep", "type": "ordinal", "scale": {"type": "point", "domain": [1, 2, 3, 4, 5], "padding": 1}},
      "y": {"field": "weight", "type": "quantitative", "title": "Tumour weight (mg)"},
      "fill": {"condition": {"test": "datum.chemo == 'FIRINOX'", "value": "black"}, "value": "white"}}},
    {"data": {"values": [{}]}, "mark": {"type": "rule", "color": "black", "strokeWidth": 1.2}, "encoding": {"x": {"datum": "untreated", "type": "nominal"}, "x2": {"datum": "3-IAA + FIRINOX"}, "y": {"datum": 1217, "type": "quantitative"}}},
    {"data": {"values": [{"g": "untreated"}, {"g": "3-IAA + FIRINOX"}]}, "mark": {"type": "rule", "color": "black", "strokeWidth": 1.2}, "encoding": {"x": {"field": "g", "type": "nominal"}, "y": {"datum": 1190, "type": "quantitative"}, "y2": {"datum": 1244}}},
    {"data": {"values": [{}]}, "mark": {"type": "text", "fontSize": 11, "baseline": "bottom", "dy": -1, "dx": 13.5}, "encoding": {"x": {"datum": "FIRINOX", "type": "nominal"}, "y": {"datum": 1217, "type": "quantitative"}, "text": {"value": "0.0133"}}},
    {"data": {"values": [{"key": "untreated"}, {"key": "FIRINOX"}, {"key": "3-IAA"}]}, "mark": {"type": "point", "filled": true, "opacity": 0}, "encoding": {
      "shape": {"field": "key", "type": "nominal", "scale": {"domain": ["untreated", "FIRINOX", "3-IAA"], "range": ["circle", "circle", "square"]}, "legend": {"title": null, "orient": "right", "offset": 36, "padding": 0, "symbolSize": 80, "symbolStrokeWidth": 1.2, "symbolOpacity": 1, "labelFontSize": 13, "labelOffset": 8, "rowPadding": 5}},
      "fill": {"field": "key", "type": "nominal", "scale": {"domain": ["untreated", "FIRINOX", "3-IAA"], "range": ["white", "black", "#b8c9e9"]}, "legend": {"title": null, "orient": "right", "offset": 36, "padding": 0, "symbolSize": 80, "symbolStrokeWidth": 1.2, "symbolOpacity": 1, "labelFontSize": 13, "labelOffset": 8, "rowPadding": 5}},
      "stroke": {"field": "key", "type": "nominal", "scale": {"domain": ["untreated", "FIRINOX", "3-IAA"], "range": ["black", "black", "#555555"]}, "legend": {"title": null, "orient": "right", "offset": 36, "padding": 0, "symbolSize": 80, "symbolStrokeWidth": 1.2, "symbolOpacity": 1, "labelFontSize": 13, "labelOffset": 8, "rowPadding": 5}}}}
  ]},
  {"width": 1, "height": 1, "data": {"values": [{}]}, "mark": {"type": "text", "text": ""}, "encoding": {}},
  {"width": 1, "height": 1, "data": {"values": [{}]}, "mark": {"type": "text", "text": ""}, "encoding": {}},
  {"width": 1, "height": 1, "data": {"values": [{}]}, "mark": {"type": "text", "text": ""}, "encoding": {}},
  {"width": 224, "height": 168, "layer": [
    {"data": {"name": "lineB"}, "mark": {"type": "line", "strokeWidth": 1.5}, "encoding": {
      "x": {"field": "day", "type": "quantitative", "scale": {"domain": [0, 20], "nice": false}, "axis": {"values": [0, 5, 10, 15, 20], "title": "Days post injection"}},
      "y": {"field": "value", "type": "quantitative", "scale": {"domain": [0, 1500], "nice": false, "range": [168, 18]}, "axis": {"values": [0, 500, 1000, 1500], "tickCount": 20, "format": "d", "title": "Tumour size (mm³)"}},
      "color": {"field": "series", "type": "nominal", "scale": {"domain": ["untreated", "FIRINOX", "3-IAA", "3-IAA + FIRINOX"], "range": ["#9b9b9b", "#5e5e5e", "#aab4c8", "#c5d2ea"]}, "legend": null}}},
    {"data": {"name": "lineB"}, "transform": [{"filter": "isValid(datum.upper)"}], "mark": {"type": "rule", "color": "black", "strokeWidth": 1.3}, "encoding": {"x": {"field": "day", "type": "quantitative", "title": "Days post injection"}, "y": {"field": "value", "type": "quantitative", "title": "Tumour size (mm³)"}, "y2": {"field": "upper"}}},
    {"data": {"name": "lineB"}, "transform": [{"filter": "isValid(datum.upper)"}], "mark": {"type": "tick", "orient": "horizontal", "size": 8, "thickness": 1.3, "color": "black", "opacity": 1}, "encoding": {"x": {"field": "day", "type": "quantitative", "title": "Days post injection"}, "y": {"field": "upper", "type": "quantitative", "title": "Tumour size (mm³)"}}},
    {"data": {"name": "lineB"}, "mark": {"type": "point", "filled": true, "size": 45, "stroke": "black", "strokeWidth": 1.2, "opacity": 1}, "encoding": {"x": {"field": "day", "type": "quantitative", "title": "Days post injection"}, "y": {"field": "value", "type": "quantitative", "title": "Tumour size (mm³)"}, "fill": {"condition": {"test": "datum.chemo == 'FIRINOX'", "value": "black"}, "value": "white"}}},
    {"data": {"values": [{}]}, "mark": {"type": "rule", "strokeWidth": 2.5, "color": "black"}, "encoding": {"x": {"datum": 9, "type": "quantitative"}, "y": {"datum": 797, "type": "quantitative"}, "y2": {"datum": 360}}},
    {"data": {"values": [{}]}, "mark": {"type": "point", "shape": "M -1 -0.5 L 1 -0.5 L 0 0.5 Z", "size": 484, "filled": true, "color": "black", "opacity": 1}, "encoding": {"x": {"datum": 9, "type": "quantitative"}, "y": {"datum": 345, "type": "quantitative"}}},
    {"data": {"name": "pB"}, "mark": {"type": "text", "align": "left", "dx": 6, "dy": 3, "fontSize": 11}, "encoding": {"x": {"field": "day", "type": "quantitative"}, "y": {"field": "value", "type": "quantitative"}, "text": {"field": "label"}}}
  ]},

  {"width": 1, "height": 63, "data": {"values": [{}]}, "mark": {"type": "text", "text": ""}, "encoding": {}},
  {"width": 1, "height": 1, "data": {"values": [{}]}, "mark": {"type": "text", "text": ""}, "encoding": {}},
  {"width": 1, "height": 1, "data": {"values": [{}]}, "mark": {"type": "text", "text": ""}, "encoding": {}},
  {"width": 1, "height": 1, "data": {"values": [{}]}, "mark": {"type": "text", "text": ""}, "encoding": {}},
  {"width": 1, "height": 1, "data": {"values": [{}]}, "mark": {"type": "text", "text": ""}, "encoding": {}},
  {"width": 1, "height": 1, "data": {"values": [{}]}, "mark": {"type": "text", "text": ""}, "encoding": {}},
  {"width": 1, "height": 1, "data": {"values": [{}]}, "mark": {"type": "text", "text": ""}, "encoding": {}},

  {"width": 58, "height": 12, "title": {"text": "c", "anchor": "start", "frame": "group", "fontSize": 24, "fontWeight": "bold", "baseline": "alphabetic", "offset": -22, "dx": 3}, "data": {"values": [{}]}, "mark": {"type": "text", "text": ""}, "encoding": {}},
  {"width": 1, "height": 1, "data": {"values": [{}]}, "mark": {"type": "text", "text": ""}, "encoding": {}},
  {"width": 89, "height": 12, "title": {"text": "d", "anchor": "start", "frame": "group", "fontSize": 24, "fontWeight": "bold", "baseline": "alphabetic", "offset": -22, "dx": 19}, "data": {"values": [{}]}, "mark": {"type": "text", "text": ""}, "encoding": {}},
  {"width": 1, "height": 1, "data": {"values": [{}]}, "mark": {"type": "text", "text": ""}, "encoding": {}},
  {"width": 1, "height": 1, "data": {"values": [{}]}, "mark": {"type": "text", "text": ""}, "encoding": {}},
  {"width": 12, "height": 12, "title": {"text": "f", "anchor": "start", "frame": "group", "fontSize": 24, "fontWeight": "bold", "baseline": "alphabetic", "offset": -22, "dx": -1}, "data": {"values": [{}]}, "mark": {"type": "text", "text": ""}, "encoding": {}},
  {"width": 1, "height": 1, "data": {"values": [{}]}, "mark": {"type": "text", "text": ""}, "encoding": {}},

  {"width": 1, "height": 1, "data": {"values": [{}]}, "mark": {"type": "text", "text": ""}, "encoding": {}},
  {"width": 101, "height": 161, "layer": [
    {"data": {"name": "barsC"}, "mark": {"type": "bar", "stroke": "#6b6b6b", "strokeWidth": 0.8, "opacity": 1}, "encoding": {
      "x": {"field": "group", "type": "nominal", "scale": {"domain": ["GNP", "3-IAA"], "paddingInner": 0.33, "paddingOuter": 0.34}, "axis": {"title": null, "labels": false, "ticks": false}},
      "y": {"field": "mean", "type": "quantitative", "scale": {"domain": [0, 800], "nice": false, "range": [161, 13]}, "axis": {"values": [0, 200, 400, 600, 800], "tickCount": 20, "format": "d", "title": "Tumour weight (mg)"}},
      "color": {"field": "iaa", "type": "nominal", "scale": {"domain": ["none", "3-IAA"], "range": ["#807c7c", "#b8c9e9"]}, "legend": null}}},
    {"data": {"name": "barsC"}, "mark": {"type": "rule", "color": "black", "strokeWidth": 1.5}, "encoding": {"x": {"field": "group", "type": "nominal"}, "y": {"field": "lo", "type": "quantitative", "title": "Tumour weight (mg)"}, "y2": {"field": "hi"}}},
    {"data": {"name": "barsC"}, "mark": {"type": "tick", "orient": "horizontal", "size": 15, "thickness": 1.5, "color": "black", "opacity": 1}, "encoding": {"x": {"field": "group", "type": "nominal"}, "y": {"field": "lo", "type": "quantitative", "title": "Tumour weight (mg)"}}},
    {"data": {"name": "barsC"}, "mark": {"type": "tick", "orient": "horizontal", "size": 15, "thickness": 1.5, "color": "black", "opacity": 1}, "encoding": {"x": {"field": "group", "type": "nominal"}, "y": {"field": "hi", "type": "quantitative", "title": "Tumour weight (mg)"}}},
    {"data": {"name": "dotsC"}, "mark": {"type": "point", "shape": "diamond", "filled": true, "size": 60, "color": "black", "opacity": 1}, "encoding": {
      "x": {"field": "group", "type": "nominal"},
      "xOffset": {"field": "rep", "type": "ordinal", "scale": {"type": "point", "domain": [1, 2, 3, 4, 5], "padding": 1}},
      "y": {"field": "weight", "type": "quantitative", "title": "Tumour weight (mg)"}}},
    {"data": {"values": [{}]}, "mark": {"type": "rule", "color": "black", "strokeWidth": 1.2}, "encoding": {"x": {"datum": "GNP", "type": "nominal"}, "x2": {"datum": "3-IAA"}, "y": {"datum": 746, "type": "quantitative"}}},
    {"data": {"values": [{}]}, "mark": {"type": "text", "fontSize": 11, "baseline": "bottom", "dy": -1, "dx": 22}, "encoding": {"x": {"datum": "GNP", "type": "nominal"}, "y": {"datum": 746, "type": "quantitative"}, "text": {"value": "0.0061"}}},
    {"data": {"values": [{"key": "GNP"}, {"key": "3-IAA"}]}, "mark": {"type": "point", "filled": true, "opacity": 0}, "encoding": {
      "shape": {"field": "key", "type": "nominal", "scale": {"domain": ["GNP", "3-IAA"], "range": ["diamond", "square"]}, "legend": {"title": null, "orient": "right", "offset": 3, "padding": 14.5, "symbolSize": 90, "symbolStrokeWidth": 1.2, "symbolOpacity": 1, "labelFontSize": 13, "labelOffset": 13, "rowPadding": 9}},
      "fill": {"field": "key", "type": "nominal", "scale": {"domain": ["GNP", "3-IAA"], "range": ["black", "#b8c9e9"]}, "legend": {"title": null, "orient": "right", "offset": 3, "padding": 14.5, "symbolSize": 90, "symbolStrokeWidth": 1.2, "symbolOpacity": 1, "labelFontSize": 13, "labelOffset": 13, "rowPadding": 9}},
      "stroke": {"field": "key", "type": "nominal", "scale": {"domain": ["GNP", "3-IAA"], "range": ["black", "#555555"]}, "legend": {"title": null, "orient": "right", "offset": 3, "padding": 14.5, "symbolSize": 90, "symbolStrokeWidth": 1.2, "symbolOpacity": 1, "labelFontSize": 13, "labelOffset": 13, "rowPadding": 9}}}}
  ]},
  {"width": 1, "height": 1, "data": {"values": [{}]}, "mark": {"type": "text", "text": ""}, "encoding": {}},
  {"width": 50, "height": 162, "title": {"text": "Neutropenia", "anchor": "middle", "frame": "group", "fontSize": 13, "fontWeight": "normal", "baseline": "alphabetic", "offset": -10, "dx": 21}, "layer": [
    {"data": {"name": "dBars"}, "mark": {"type": "bar", "stroke": "#333333", "strokeWidth": 1, "opacity": 1}, "encoding": {
      "x": {"field": "resp", "type": "nominal", "scale": {"domain": ["R", "NR"], "range": [0, 100], "paddingInner": 0.35, "paddingOuter": 0.34}, "axis": {"title": null, "ticks": false, "tickSize": 0, "labelAngle": 0, "labelPadding": 5, "labelFontSize": 12}},
      "y": {"field": "n", "type": "quantitative", "stack": "zero", "scale": {"domain": [0, 20], "nice": false, "range": [162, 13]}, "axis": {"values": [0, 5, 10, 15, 20], "tickCount": 20, "format": "d", "title": "Number of patients"}},
      "color": {"field": "answer", "type": "nominal", "scale": {"domain": ["No", "Yes"], "range": ["#a5a5a5", "#000000"]}, "legend": {"title": null, "orient": "right", "symbolType": "square", "symbolSize": 120, "symbolStrokeColor": "#333333", "symbolStrokeWidth": 1, "labelFontSize": 13, "offset": 21.5, "padding": 23.5, "rowPadding": 3, "labelOffset": 7}},
      "order": {"field": "answer", "sort": "descending"}}},
    {"data": {"values": [{}]}, "mark": {"type": "rule", "color": "black", "strokeWidth": 1.2}, "encoding": {"x": {"datum": "R", "type": "nominal"}, "x2": {"datum": "NR"}, "y": {"datum": 18.9, "type": "quantitative"}}},
    {"data": {"values": [{}]}, "mark": {"type": "text", "fontSize": 11, "baseline": "bottom", "dy": -1, "dx": 21.5}, "encoding": {"x": {"datum": "R", "type": "nominal"}, "y": {"datum": 18.9, "type": "quantitative"}, "text": {"value": "0.0211"}}}
  ]},
  {"width": 1, "height": 1, "data": {"values": [{}]}, "mark": {"type": "text", "text": ""}, "encoding": {}},
  {"width": 12, "height": 198, "data": {"name": "table"}, "transform": [{"fold": ["Variable", "Estimate", "P"], "as": ["col", "val"]}], "layer": [
    {"transform": [{"filter": "datum.val != '0.0081'"}], "mark": {"type": "text", "fontSize": 12.5, "color": "black"}, "encoding": {
      "x": {"field": "col", "type": "nominal", "scale": {"domain": ["Variable", "Estimate", "P"], "range": [0, 216], "paddingInner": 0, "paddingOuter": 0}, "axis": {"orient": "top", "title": null, "ticks": false, "tickSize": 0, "domainWidth": 3, "domainColor": "black", "offset": 5, "labelPadding": 9, "labelFontSize": 13, "labelAngle": 0, "labelExpr": "datum.value == 'Estimate' ? '(Estimate)' : datum.value == 'P' ? 'P Value' : datum.value"}},
      "y": {"field": "Variable", "type": "nominal", "scale": {"domain": ["3-IAA", "Age", "Weight", "Sex", "CA-19-9", "Tumor size"], "paddingInner": 0, "paddingOuter": 0}, "axis": null},
      "text": {"field": "val"}}},
    {"transform": [{"filter": "datum.val == '0.0081'"}], "mark": {"type": "text", "fontSize": 12.5, "fontWeight": "bold", "color": "black"}, "encoding": {
      "x": {"field": "col", "type": "nominal"},
      "y": {"field": "Variable", "type": "nominal"},
      "text": {"field": "val"}}},
    {"transform": [{"filter": "datum.col == 'Variable' && datum.Variable != 'Tumor size'"}], "mark": {"type": "rule", "color": "#555555", "strokeWidth": 1.3}, "encoding": {
      "x": {"datum": "Variable", "type": "nominal", "bandPosition": 0},
      "x2": {"datum": "P", "bandPosition": 1},
      "y": {"field": "Variable", "type": "nominal", "bandPosition": 1}}}
  ]},
  {"width": 1, "height": 1, "data": {"values": [{}]}, "mark": {"type": "text", "text": ""}, "encoding": {}},

  {"width": 1, "height": 10, "data": {"values": [{}]}, "mark": {"type": "text", "text": ""}, "encoding": {}},
  {"width": 1, "height": 1, "data": {"values": [{}]}, "mark": {"type": "text", "text": ""}, "encoding": {}},
  {"width": 1, "height": 1, "data": {"values": [{}]}, "mark": {"type": "text", "text": ""}, "encoding": {}},
  {"width": 1, "height": 1, "data": {"values": [{}]}, "mark": {"type": "text", "text": ""}, "encoding": {}},
  {"width": 1, "height": 1, "data": {"values": [{}]}, "mark": {"type": "text", "text": ""}, "encoding": {}},
  {"width": 1, "height": 1, "data": {"values": [{}]}, "mark": {"type": "text", "text": ""}, "encoding": {}},
  {"width": 1, "height": 1, "data": {"values": [{}]}, "mark": {"type": "text", "text": ""}, "encoding": {}},

  {"width": 58, "height": 18, "title": {"text": "e", "anchor": "start", "frame": "group", "fontSize": 24, "fontWeight": "bold", "baseline": "alphabetic", "offset": -22, "dx": 3}, "data": {"values": [{}]}, "mark": {"type": "text", "text": ""}, "encoding": {}},
  {"width": 1, "height": 1, "data": {"values": [{}]}, "mark": {"type": "text", "text": ""}, "encoding": {}},
  {"width": 1, "height": 1, "data": {"values": [{}]}, "mark": {"type": "text", "text": ""}, "encoding": {}},
  {"width": 1, "height": 1, "data": {"values": [{}]}, "mark": {"type": "text", "text": ""}, "encoding": {}},
  {"width": 1, "height": 1, "data": {"values": [{}]}, "mark": {"type": "text", "text": ""}, "encoding": {}},
  {"width": 1, "height": 1, "data": {"values": [{}]}, "mark": {"type": "text", "text": ""}, "encoding": {}},
  {"width": 1, "height": 1, "data": {"values": [{}]}, "mark": {"type": "text", "text": ""}, "encoding": {}},

  {"width": 1, "height": 1, "data": {"values": [{}]}, "mark": {"type": "text", "text": ""}, "encoding": {}},
  {"width": 181, "height": 150, "layer": [
    {"data": {"name": "bandL"}, "mark": {"type": "area", "color": "#f8c8c6", "opacity": 1, "interpolate": "monotone"}, "encoding": {
      "x": {"field": "x", "type": "quantitative", "scale": {"domain": [0, 800], "nice": false, "range": [0, 224]}, "axis": {"values": [0, 200, 400, 600, 800], "tickCount": 20, "format": "d", "title": "Overall survival (d)"}},
      "y": {"field": "lo", "type": "quantitative", "scale": {"domain": [0, 250], "nice": false}, "axis": {"values": [0, 50, 100, 150, 200, 250], "tickCount": 20, "format": "d", "title": "Deoxycholic acid (ng/ml)"}},
      "y2": {"field": "hi"}}},
    {"data": {"name": "bandL"}, "mark": {"type": "line", "color": "black", "strokeWidth": 1, "interpolate": "monotone"}, "encoding": {"x": {"field": "x", "type": "quantitative", "title": "Overall survival (d)"}, "y": {"field": "lo", "type": "quantitative", "title": "Deoxycholic acid (ng/ml)"}}},
    {"data": {"name": "bandL"}, "mark": {"type": "line", "color": "black", "strokeWidth": 1, "interpolate": "monotone"}, "encoding": {"x": {"field": "x", "type": "quantitative", "title": "Overall survival (d)"}, "y": {"field": "hi", "type": "quantitative", "title": "Deoxycholic acid (ng/ml)"}}},
    {"data": {"name": "bandL"}, "mark": {"type": "line", "color": "black", "strokeWidth": 1}, "encoding": {"x": {"field": "x", "type": "quantitative", "title": "Overall survival (d)"}, "y": {"field": "fit", "type": "quantitative", "title": "Deoxycholic acid (ng/ml)"}}},
    {"data": {"name": "eL"}, "mark": {"type": "circle", "size": 65, "color": "black", "opacity": 1}, "encoding": {"x": {"field": "os", "type": "quantitative", "title": "Overall survival (d)"}, "y": {"field": "dca", "type": "quantitative", "title": "Deoxycholic acid (ng/ml)"}}},
    {"data": {"values": [{}]}, "mark": {"type": "text", "align": "left", "baseline": "top", "fontSize": 12, "lineHeight": 13.5}, "encoding": {"x": {"datum": 400, "type": "quantitative"}, "y": {"datum": 252, "type": "quantitative"}, "text": {"value": ["r = 0.15", "R² = 0.024", "p = 0.2718"]}}}
  ]},
  {"width": 1, "height": 1, "data": {"values": [{}]}, "mark": {"type": "text", "text": ""}, "encoding": {}},
  {"width": 1, "height": 1, "data": {"values": [{}]}, "mark": {"type": "text", "text": ""}, "encoding": {}},
  {"width": 174, "height": 150, "layer": [
    {"data": {"name": "bandR"}, "mark": {"type": "area", "color": "#f8c8c6", "opacity": 1, "interpolate": "monotone"}, "encoding": {
      "x": {"field": "x", "type": "quantitative", "scale": {"domain": [0, 400], "nice": false, "range": [0, 224]}, "axis": {"values": [0, 100, 200, 300, 400], "tickCount": 20, "format": "d", "title": "Progression-free survival (d)"}},
      "y": {"field": "lo", "type": "quantitative", "scale": {"domain": [0, 250], "nice": false}, "axis": {"values": [0, 50, 100, 150, 200, 250], "tickCount": 20, "format": "d", "title": "Deoxycholic acid (ng/ml)"}},
      "y2": {"field": "hi"}}},
    {"data": {"name": "bandR"}, "mark": {"type": "line", "color": "black", "strokeWidth": 1, "interpolate": "monotone"}, "encoding": {"x": {"field": "x", "type": "quantitative", "title": "Progression-free survival (d)"}, "y": {"field": "lo", "type": "quantitative", "title": "Deoxycholic acid (ng/ml)"}}},
    {"data": {"name": "bandR"}, "mark": {"type": "line", "color": "black", "strokeWidth": 1, "interpolate": "monotone"}, "encoding": {"x": {"field": "x", "type": "quantitative", "title": "Progression-free survival (d)"}, "y": {"field": "hi", "type": "quantitative", "title": "Deoxycholic acid (ng/ml)"}}},
    {"data": {"name": "bandR"}, "mark": {"type": "line", "color": "black", "strokeWidth": 1}, "encoding": {"x": {"field": "x", "type": "quantitative", "title": "Progression-free survival (d)"}, "y": {"field": "fit", "type": "quantitative", "title": "Deoxycholic acid (ng/ml)"}}},
    {"data": {"name": "eR"}, "mark": {"type": "circle", "size": 65, "color": "black", "opacity": 1}, "encoding": {"x": {"field": "pfs", "type": "quantitative", "title": "Progression-free survival (d)"}, "y": {"field": "dca", "type": "quantitative", "title": "Deoxycholic acid (ng/ml)"}}},
    {"data": {"values": [{}]}, "mark": {"type": "text", "align": "left", "baseline": "top", "fontSize": 12, "lineHeight": 13.5}, "encoding": {"x": {"datum": 259, "type": "quantitative"}, "y": {"datum": 252, "type": "quantitative"}, "text": {"value": ["r = 0.07", "R² = 0.0046", "p = 0.3877"]}}}
  ]},
  {"width": 1, "height": 1, "data": {"values": [{}]}, "mark": {"type": "text", "text": ""}, "encoding": {}},
  {"width": 1, "height": 1, "data": {"values": [{}]}, "mark": {"type": "text", "text": ""}, "encoding": {}}
]
}
